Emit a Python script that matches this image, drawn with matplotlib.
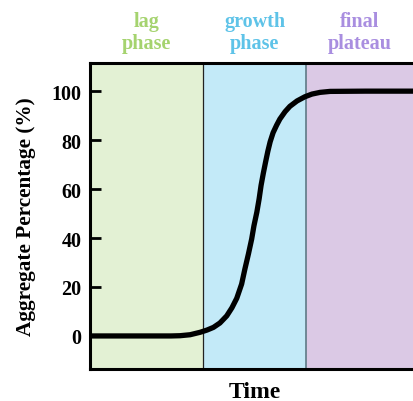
import matplotlib
matplotlib.use("Agg")
import matplotlib.pyplot as plt

# ---- data ----
time = [0, 1.0, 2.0, 2.5, 2.78, 3.09, 3.40, 3.61, 3.81, 4.01, 4.22, 4.38, 4.53,
        4.68, 4.78, 4.89, 4.99, 5.06, 5.15, 5.22, 5.28, 5.35, 5.42, 5.49, 5.56,
        5.65, 5.76, 5.86, 6.02, 6.17, 6.39, 6.63, 6.85, 7.10, 7.41, 8.50, 10.0]
aggregate = [0, 0, 0, 0, 0.1, 0.5, 1.5, 2.4, 3.5, 5.3, 8.2, 11.5, 15.4,
             21.2, 27.3, 33.5, 39.6, 45.0, 50.6, 56.0, 61.5, 66.5, 71.1, 75.5, 79.3,
             83.0, 86.1, 88.6, 91.6, 93.8, 96.0, 97.7, 98.8, 99.5, 99.9, 100, 100]
phase_names = ["lag\nphase", "growth\nphase", "final\nplateau"]
phase_bounds = [0, 3.5, 6.67, 10]
phase_fill = ["#e3f1d4", "#c3eaf8", "#dbc9e5"]
phase_text = ["#a5d36f", "#5ec3e8", "#a98ee0"]
yticks = [0, 20, 40, 60, 80, 100]

plt.rcParams['font.family'] = ['Liberation Serif', 'DejaVu Serif']
plt.rcParams['font.weight'] = 'bold'

fig = plt.figure(figsize=(4.14, 4.02), dpi=100)
ax = fig.add_axes([0.2174, 0.0796, 0.7826, 0.7612])
ax.set_xlim(0, 10)
ax.set_ylim(-13.5, 111.5)

for i, name in enumerate(phase_names):
    x0, x1 = phase_bounds[i], phase_bounds[i + 1]
    ax.axvspan(x0, x1, color=phase_fill[i], zorder=0, lw=0)
    ax.text((x0 + x1) / 2, 1.033, name, transform=ax.get_xaxis_transform(),
            ha="center", va="bottom", color=phase_text[i], fontsize=14.5,
            fontweight="bold", linespacing=1.1)

ax.axvline(phase_bounds[1], color="#222222", lw=0.9, zorder=1)
ax.axvline(phase_bounds[2], color="#5f7a86", lw=1.2, zorder=1)

ax.plot(time, aggregate, color="black", lw=3.8, solid_capstyle="round",
        solid_joinstyle="round", zorder=3)

ax.set_yticks(yticks)
ax.set_yticklabels([str(v) for v in yticks], fontsize=14.5, fontweight="bold")
ax.set_xticks([])
ax.tick_params(axis="y", direction="in", length=8, width=2, pad=6)
ax.set_ylabel("Aggregate Percentage (%)", fontsize=15.3, fontweight="bold", labelpad=11)
ax.set_xlabel("Time", fontsize=17, fontweight="bold")
ax.xaxis.set_label_coords(0.51, -0.038, transform=ax.transAxes)
ax.xaxis.label.set_va("top")

for s in ["left", "top", "bottom"]:
    ax.spines[s].set_linewidth(2.2)
ax.spines["right"].set_visible(False)

fig.savefig("out.png", dpi=100)
